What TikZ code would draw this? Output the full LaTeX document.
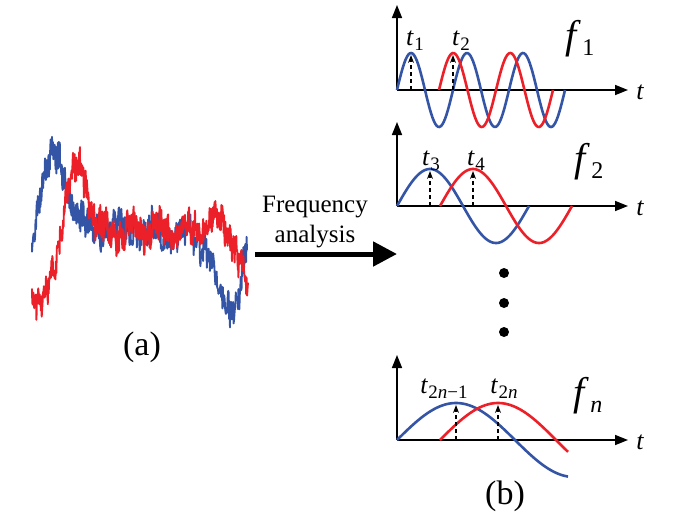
\documentclass[tikz,border=0pt]{standalone}
\usepackage{fontspec}
\setmainfont{Liberation Serif}
\newfontfamily\tnr{Liberation Serif}
\usetikzlibrary{arrows.meta}
\definecolor{sigblue}{RGB}{52,84,166}
\definecolor{sigred}{RGB}{236,32,40}
\newcommand\tlab[1]{\textit{t}\kern0.3pt\raisebox{-5pt}{\fontsize{19}{19}\selectfont #1}}
\newcommand\flab[1]{\textit{f}\kern1pt\raisebox{-7pt}{\fontsize{24}{24}\selectfont #1}}
\begin{document}
\begin{tikzpicture}[x=1pt,y=-1pt,
  axis/.style={line width=1.6pt,-{Triangle[length=13pt,width=10pt]}},
  wave/.style={line width=2.6pt},
  peakline/.style={line width=1.2pt,dash pattern=on 4pt off 3pt,-{Stealth[length=8pt,width=6pt]}},
  noise/.style={line width=1.9pt,line join=round},
  tname/.style={font=\tnr\fontsize{26}{26}\selectfont,anchor=base,inner sep=0pt},
  fname/.style={font=\tnr\fontsize{40}{40}\selectfont,anchor=base,inner sep=0pt},
  axlab/.style={font=\tnr\fontsize{26}{26}\selectfont\itshape,inner sep=0pt},
  panel/.style={font=\tnr\fontsize{34}{34}\selectfont,inner sep=0pt},
  dot/.style={circle,fill=black,inner sep=0pt,minimum size=10pt},
  bigarrow/.style={line width=5pt,-{Triangle[length=24pt,width=24pt]}}
]
\useasboundingbox (0,0) rectangle (677,523);
\pgfmathsetseed{11}

% ---------- (a) noisy signals ----------
\draw[noise,sigblue] (32,243)
 \foreach \xa/\ya/\xb/\yb [evaluate=\xb as \ns using {int(abs(\xb-\xa)*2.2)+2}] in
 {32/243/36/215, 36/215/40/190, 40/190/45/172, 45/172/52/160, 52/160/60/165,
  60/165/68/185, 68/185/76/212, 76/212/84/226, 84/226/100/228, 100/228/130/230,
  130/230/160/233, 160/233/190/236, 190/236/205/243, 205/243/214/278, 214/278/222/300,
  222/300/230/308, 230/308/238/295, 238/295/243/270, 243/270/247/245}
 { -- plot[domain=0:1,samples=\ns]
   ({\xa+\x*(\xb-\xa)},{\ya+\x*(\yb-\ya)+15*rand+5*sin(47*(\xa+\x*(\xb-\xa)))+7*sin(11*(\xa+\x*(\xb-\xa))+40)}) };
\draw[noise,sigred] (32,298)
 \foreach \xa/\ya/\xb/\yb [evaluate=\xb as \ns using {int(abs(\xb-\xa)*2.2)+2}] in
 {32/296/40/298, 40/298/46/298, 46/298/50/288, 50/288/55/265, 55/265/60/235,
  60/235/64/207, 64/207/68/182, 68/182/73/172, 73/172/80/170, 80/170/86/184,
  86/184/92/210, 92/210/98/228, 98/228/120/233, 120/233/150/228, 150/228/180/231,
  180/231/200/228, 200/228/215/223, 215/223/225/223, 225/223/232/240, 232/240/238/262,
  238/262/243/278, 243/278/248/290}
 { -- plot[domain=0:1,samples=\ns]
   ({\xa+\x*(\xb-\xa)},{\ya+\x*(\yb-\ya)+15*rand+5*sin(53*(\xa+\x*(\xb-\xa))+20)+7*sin(13*(\xa+\x*(\xb-\xa)))}) };
\node[panel] (pa) at (142,347) {(a)};

% ---------- big arrow ----------
\node[font=\tnr\fontsize{25}{30}\selectfont,align=center,inner sep=0pt] (fa) at (315,222) {Frequency\\analysis};
\coordinate (as) at (255,254);
\coordinate (ae) at (397,254);
\draw[bigarrow] (as) -- (ae);

% ---------- f1 ----------
\coordinate (o1) at (397,90); \coordinate (x1) at (628,90); \coordinate (y1) at (397,5);
\draw[axis] (o1) -- (x1);
\draw[axis] (o1) -- (y1);
\draw[wave,sigblue] plot[domain=397:565,samples=120] (\x,{90-37*sin((\x-397)/56*360)});
\draw[wave,sigred] plot[domain=439:553,samples=100] (\x,{90-37*sin((\x-439)/57*360)});
\coordinate (b1a) at (411,90); \coordinate (p1a) at (411,55);
\coordinate (b1b) at (453,90); \coordinate (p1b) at (453,55);
\draw[peakline] (b1a) -- (p1a);
\draw[peakline] (b1b) -- (p1b);
\node[tname] (t1) at (415,45) {\tlab{1}};
\node[tname] (t2) at (461,45) {\tlab{2}};
\node[fname] (f1) at (580,48) {\flab{1}};
\node[axlab] (tx1) at (640,92) {t};

% ---------- f2 ----------
\coordinate (o2) at (397,206); \coordinate (x2) at (628,206); \coordinate (y2) at (397,122);
\draw[axis] (o2) -- (x2);
\draw[axis] (o2) -- (y2);
\draw[wave,sigblue] plot[domain=397:529,samples=100] (\x,{206-37*sin((\x-397)/132*360)});
\draw[wave,sigred] plot[domain=440:572,samples=100] (\x,{206-37*sin((\x-440)/132*360)});
\coordinate (b2a) at (430,206); \coordinate (p2a) at (430,171);
\coordinate (b2b) at (473,206); \coordinate (p2b) at (473,171);
\draw[peakline] (b2a) -- (p2a);
\draw[peakline] (b2b) -- (p2b);
\node[tname] (t3) at (431,165) {\tlab{3}};
\node[tname] (t4) at (476,165) {\tlab{4}};
\node[fname] (f2) at (589,171) {\flab{2}};
\node[axlab] (tx2) at (640,208) {t};

% ---------- dots ----------
\node[dot] (d1) at (504,273) {};
\node[dot] (d2) at (504,303) {};
\node[dot] (d3) at (504,332) {};

% ---------- fn ----------
\coordinate (o3) at (397,440); \coordinate (x3) at (628,440); \coordinate (y3) at (397,355);
\draw[axis] (o3) -- (x3);
\draw[axis] (o3) -- (y3);
\draw[wave,sigblue] plot[domain=397:568,samples=100] (\x,{440-37*sin((\x-397)/236*360)});
\draw[wave,sigred] plot[domain=440:568,samples=100] (\x,{440-37*sin((\x-440)/232*360)});
\coordinate (b3a) at (456,440); \coordinate (p3a) at (456,405);
\coordinate (b3b) at (498,440); \coordinate (p3b) at (498,405);
\draw[peakline] (b3a) -- (p3a);
\draw[peakline] (b3b) -- (p3b);
\node[tname] (t5) at (444,393) {\tlab{2\textit{n}−1}};
\node[tname] (t6) at (504,393) {\tlab{2\textit{n}}};
\node[fname] (f3) at (588,405) {\flab{\textit{n}}};
\node[axlab] (tx3) at (640,442) {t};
\node[panel] (pb) at (505,496) {(b)};
\end{tikzpicture}
\end{document}
